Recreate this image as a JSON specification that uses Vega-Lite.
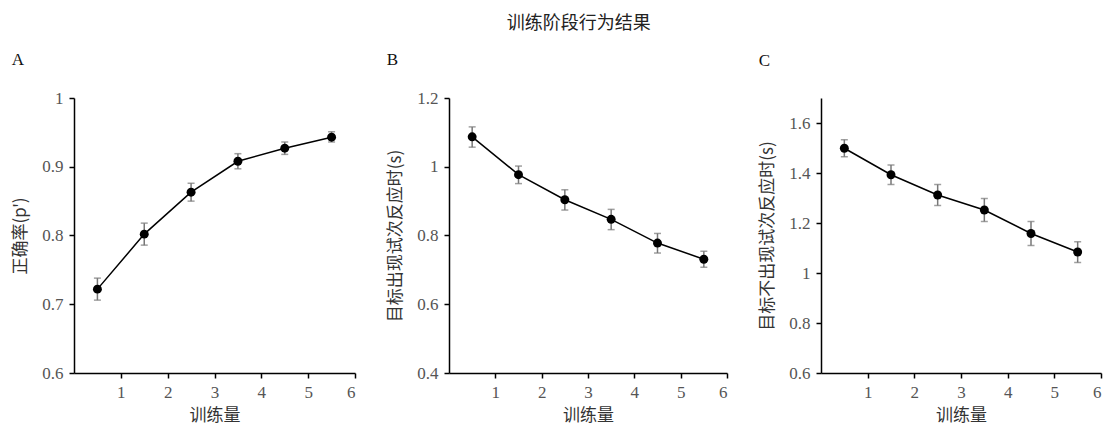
{
  "$schema": "https://vega.github.io/schema/vega-lite/v6.json",
  "padding": {"left": 11, "top": 15, "right": 4, "bottom": 2},
  "autosize": {"type": "pad"},
  "title": {"text": "训练阶段行为结果", "anchor": "middle", "dx": 22, "font": "Noto Sans CJK SC", "fontSize": 18, "fontWeight": "normal", "color": "#222", "offset": 18},
  "datasets": {
    "d": [
      {"panel": "A", "x": 0.5, "m": 0.722, "lo": 0.706, "hi": 0.738},
      {"panel": "A", "x": 1.5, "m": 0.802, "lo": 0.786, "hi": 0.818},
      {"panel": "A", "x": 2.5, "m": 0.863, "lo": 0.850, "hi": 0.876},
      {"panel": "A", "x": 3.5, "m": 0.908, "lo": 0.897, "hi": 0.919},
      {"panel": "A", "x": 4.5, "m": 0.927, "lo": 0.918, "hi": 0.936},
      {"panel": "A", "x": 5.5, "m": 0.943, "lo": 0.936, "hi": 0.951},
      {"panel": "B", "x": 0.5, "m": 1.087, "lo": 1.057, "hi": 1.116},
      {"panel": "B", "x": 1.5, "m": 0.977, "lo": 0.951, "hi": 1.002},
      {"panel": "B", "x": 2.5, "m": 0.904, "lo": 0.874, "hi": 0.933},
      {"panel": "B", "x": 3.5, "m": 0.847, "lo": 0.817, "hi": 0.876},
      {"panel": "B", "x": 4.5, "m": 0.778, "lo": 0.749, "hi": 0.806},
      {"panel": "B", "x": 5.5, "m": 0.731, "lo": 0.708, "hi": 0.754},
      {"panel": "C", "x": 0.5, "m": 1.499, "lo": 1.465, "hi": 1.533},
      {"panel": "C", "x": 1.5, "m": 1.393, "lo": 1.354, "hi": 1.432},
      {"panel": "C", "x": 2.5, "m": 1.312, "lo": 1.270, "hi": 1.354},
      {"panel": "C", "x": 3.5, "m": 1.252, "lo": 1.206, "hi": 1.298},
      {"panel": "C", "x": 4.5, "m": 1.158, "lo": 1.110, "hi": 1.206},
      {"panel": "C", "x": 5.5, "m": 1.084, "lo": 1.042, "hi": 1.125}
    ]
  },
  "spacing": 30,
  "hconcat": [
    {
      "width": 281, "height": 275,
      "title": {"text": "A", "anchor": "start", "frame": "bounds", "font": "Liberation Serif", "fontSize": 17, "fontWeight": "normal", "color": "#111", "offset": 20},
      "data": {"name": "d"},
      "transform": [{"filter": "datum.panel === 'A'"}],
      "encoding": {
        "x": {"field": "x", "type": "quantitative", "scale": {"domain": [0, 6], "nice": false}, "axis": {"values": [1, 2, 3, 4, 5, 6], "title": "训练量"}}
      },
      "layer": [
        {"mark": {"type": "rule", "color": "#777", "strokeWidth": 1.5}, "encoding": {"y": {"field": "lo", "type": "quantitative", "scale": {"domain": [0.6, 1], "nice": false, "zero": false}, "axis": {"values": [0.6, 0.7, 0.8, 0.9, 1], "format": ".2~f", "title": "正确率(p')"}}, "y2": {"field": "hi"}}},
        {"mark": {"type": "tick", "color": "#777", "thickness": 1.5, "size": 7, "orient": "horizontal"}, "encoding": {"y": {"field": "lo", "type": "quantitative"}}},
        {"mark": {"type": "tick", "color": "#777", "thickness": 1.5, "size": 7, "orient": "horizontal"}, "encoding": {"y": {"field": "hi", "type": "quantitative"}}},
        {"mark": {"type": "line", "color": "#000", "strokeWidth": 1.5}, "encoding": {"y": {"field": "m", "type": "quantitative"}}},
        {"mark": {"type": "circle", "color": "#000", "opacity": 1, "size": 80}, "encoding": {"y": {"field": "m", "type": "quantitative"}}}
      ]
    },
    {
      "width": 278, "height": 275,
      "title": {"text": "B", "anchor": "start", "frame": "bounds", "font": "Liberation Serif", "fontSize": 17, "fontWeight": "normal", "color": "#111", "offset": 20},
      "data": {"name": "d"},
      "transform": [{"filter": "datum.panel === 'B'"}],
      "encoding": {
        "x": {"field": "x", "type": "quantitative", "scale": {"domain": [0, 6], "nice": false}, "axis": {"values": [1, 2, 3, 4, 5, 6], "title": "训练量"}}
      },
      "layer": [
        {"mark": {"type": "rule", "color": "#777", "strokeWidth": 1.5}, "encoding": {"y": {"field": "lo", "type": "quantitative", "scale": {"domain": [0.4, 1.2], "nice": false, "zero": false}, "axis": {"values": [0.4, 0.6, 0.8, 1, 1.2], "format": ".2~f", "title": "目标出现试次反应时(s)"}}, "y2": {"field": "hi"}}},
        {"mark": {"type": "tick", "color": "#777", "thickness": 1.5, "size": 7, "orient": "horizontal"}, "encoding": {"y": {"field": "lo", "type": "quantitative"}}},
        {"mark": {"type": "tick", "color": "#777", "thickness": 1.5, "size": 7, "orient": "horizontal"}, "encoding": {"y": {"field": "hi", "type": "quantitative"}}},
        {"mark": {"type": "line", "color": "#000", "strokeWidth": 1.5}, "encoding": {"y": {"field": "m", "type": "quantitative"}}},
        {"mark": {"type": "circle", "color": "#000", "opacity": 1, "size": 80}, "encoding": {"y": {"field": "m", "type": "quantitative"}}}
      ]
    },
    {
      "width": 280, "height": 275,
      "title": {"text": "C", "anchor": "start", "frame": "bounds", "font": "Liberation Serif", "fontSize": 17, "fontWeight": "normal", "color": "#111", "offset": 28},
      "data": {"name": "d"},
      "transform": [{"filter": "datum.panel === 'C'"}],
      "encoding": {
        "x": {"field": "x", "type": "quantitative", "scale": {"domain": [0, 6], "nice": false}, "axis": {"values": [1, 2, 3, 4, 5, 6], "title": "训练量"}}
      },
      "layer": [
        {"mark": {"type": "rule", "color": "#777", "strokeWidth": 1.5}, "encoding": {"y": {"field": "lo", "type": "quantitative", "scale": {"domain": [0.6, 1.7], "nice": false, "zero": false}, "axis": {"values": [0.6, 0.8, 1, 1.2, 1.4, 1.6], "format": ".2~f", "title": "目标不出现试次反应时(s)"}}, "y2": {"field": "hi"}}},
        {"mark": {"type": "tick", "color": "#777", "thickness": 1.5, "size": 7, "orient": "horizontal"}, "encoding": {"y": {"field": "lo", "type": "quantitative"}}},
        {"mark": {"type": "tick", "color": "#777", "thickness": 1.5, "size": 7, "orient": "horizontal"}, "encoding": {"y": {"field": "hi", "type": "quantitative"}}},
        {"mark": {"type": "line", "color": "#000", "strokeWidth": 1.5}, "encoding": {"y": {"field": "m", "type": "quantitative"}}},
        {"mark": {"type": "circle", "color": "#000", "opacity": 1, "size": 80}, "encoding": {"y": {"field": "m", "type": "quantitative"}}}
      ]
    }
  ],
  "config": {
    "view": {"stroke": null},
    "axis": {
      "grid": false,
      "domainColor": "#000", "domainWidth": 1.5,
      "tickColor": "#000", "tickWidth": 1.5, "tickSize": 5,
      "labelFont": "Liberation Serif", "labelFontSize": 17, "labelColor": "#555", "labelPadding": 6,
      "titleFont": "Noto Sans CJK SC", "titleFontSize": 17, "titleFontWeight": "normal", "titleColor": "#333"
    },
    "axisX": {"titlePadding": 7},
    "axisY": {"titlePadding": 12}
  }
}
